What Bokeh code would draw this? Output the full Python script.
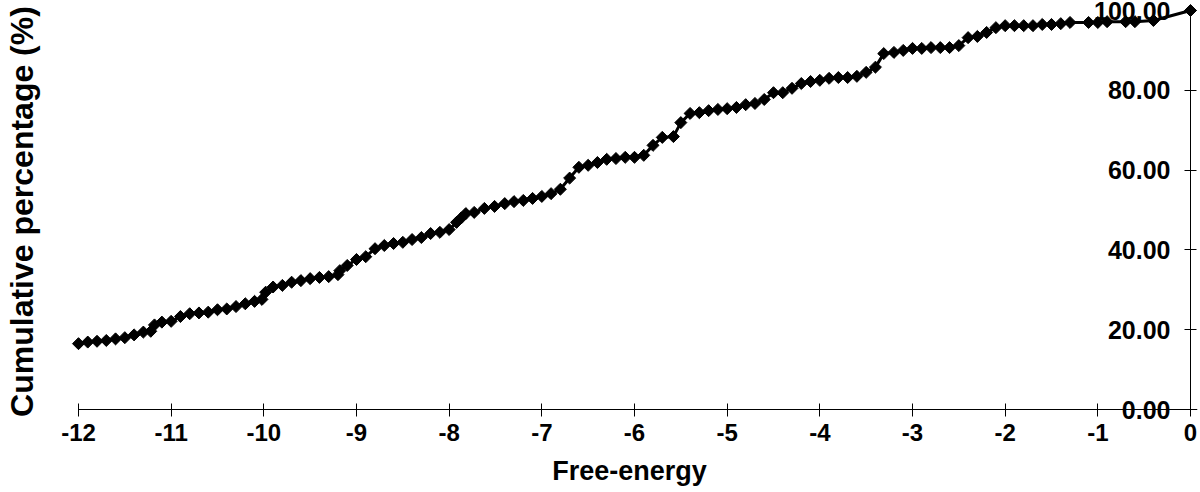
import math
from bokeh.plotting import figure
from bokeh.models import (Range1d, LinearAxis, FixedTicker, NumeralTickFormatter,
                          CustomJSTickFormatter)
from bokeh.embed import file_html
from bokeh.resources import INLINE

free_energy = [
    -12.0, -11.9, -11.8, -11.7, -11.6, -11.5, -11.4, -11.3, -11.22, -11.18,
    -11.1, -11.0, -10.9, -10.8, -10.7, -10.6, -10.5, -10.4, -10.3, -10.2,
    -10.1, -10.02, -9.98, -9.9, -9.8, -9.7, -9.6, -9.5, -9.4, -9.3,
    -9.2, -9.18, -9.1, -9.0, -8.9, -8.8, -8.7, -8.6, -8.5, -8.4,
    -8.3, -8.2, -8.1, -8.0, -7.92, -7.87, -7.82, -7.73, -7.62, -7.51,
    -7.4, -7.3, -7.2, -7.1, -7.0, -6.9, -6.8, -6.7, -6.6, -6.5,
    -6.4, -6.3, -6.2, -6.1, -6.0, -5.9, -5.8, -5.7, -5.58, -5.5,
    -5.4, -5.3, -5.2, -5.1, -5.0, -4.9, -4.8, -4.7, -4.6, -4.5,
    -4.4, -4.3, -4.2, -4.1, -4.0, -3.9, -3.8, -3.7, -3.6, -3.5,
    -3.4, -3.31, -3.2, -3.1, -3.0, -2.9, -2.8, -2.7, -2.6, -2.5,
    -2.4, -2.3, -2.2, -2.1, -2.0, -1.9, -1.8, -1.7, -1.6, -1.5,
    -1.4, -1.3, -1.1, -1.0, -0.9, -0.7, -0.6, -0.4, 0.0,
]
cumulative_pct = [
    16.5, 16.9, 17.1, 17.3, 17.7, 18.0, 18.7, 19.4, 19.6, 21.2,
    21.9, 22.1, 23.3, 24.0, 24.2, 24.4, 25.0, 25.2, 25.8, 26.5,
    27.1, 27.6, 29.4, 30.7, 31.1, 31.9, 32.3, 32.8, 33.1, 33.3,
    33.8, 34.8, 36.1, 37.6, 38.3, 40.3, 41.1, 41.6, 41.9, 42.6,
    43.1, 44.1, 44.4, 45.1, 46.9, 48.0, 49.1, 49.4, 50.4, 50.9,
    51.6, 52.1, 52.4, 52.9, 53.4, 54.1, 55.2, 58.0, 60.7, 61.2,
    61.9, 62.7, 62.9, 63.2, 63.2, 63.7, 66.2, 68.2, 68.4, 71.9,
    74.2, 74.4, 74.9, 75.2, 75.4, 75.7, 76.4, 76.7, 77.7, 79.4,
    79.4, 80.5, 81.7, 82.2, 82.5, 83.0, 83.2, 83.2, 83.5, 84.5,
    85.8, 89.2, 89.5, 90.0, 90.5, 90.5, 90.7, 90.7, 90.7, 91.2,
    93.2, 93.5, 94.5, 95.7, 96.2, 96.2, 96.2, 96.2, 96.5, 96.5,
    96.7, 97.0, 97.0, 97.0, 97.2, 97.2, 97.2, 97.5, 100.0,
]
x_ticks = [-12, -11, -10, -9, -8, -7, -6, -5, -4, -3, -2, -1, 0]
y_ticks = [0, 20, 40, 60, 80, 100]

FONT = "Liberation Sans"

p = figure(width=1198, height=490, output_backend="svg", toolbar_location=None,
           x_range=Range1d(-12.1833, 0.0755), y_range=Range1d(-3.258, 102.506),
           x_axis_type=None, y_axis_type=None,
           min_border_left=60, min_border_right=1, min_border_top=0, min_border_bottom=68)
p.outline_line_color = None
p.background_fill_color = "white"
p.border_fill_color = "white"

p.line(free_energy, cumulative_pct, line_color="black", line_width=3)
p.scatter(free_energy, cumulative_pct, marker="square", angle=math.pi / 4,
          size=8.5, fill_color="black", line_color="black")

# x axis line + ticks, sitting at y = 0
xline = LinearAxis(ticker=FixedTicker(ticks=x_ticks, minor_ticks=[]),
                   formatter=CustomJSTickFormatter(code="return ''"),
                   fixed_location=0, bounds=(-12, 0.08))
xline.major_tick_in = 6
xline.major_tick_out = 7
xline.minor_tick_line_color = None
xline.axis_line_color = "black"
xline.major_tick_line_color = "black"
p.add_layout(xline, "below")

# x tick labels and title
xaxis = LinearAxis(ticker=FixedTicker(ticks=x_ticks, minor_ticks=[]),
                   formatter=NumeralTickFormatter(format="0"),
                   axis_label="Free-energy")
xaxis.axis_line_color = None
xaxis.major_tick_line_color = None
xaxis.minor_tick_line_color = None
xaxis.major_tick_in = 0
xaxis.major_tick_out = 0
xaxis.major_label_text_font = FONT
xaxis.major_label_text_font_style = "bold"
xaxis.major_label_text_font_size = "24px"
xaxis.major_label_text_color = "black"
xaxis.major_label_standoff = 1
xaxis.axis_label_text_font = FONT
xaxis.axis_label_text_font_style = "bold"
xaxis.axis_label_text_font_size = "27px"
xaxis.axis_label_text_color = "black"
xaxis.axis_label_standoff = 12
p.add_layout(xaxis, "below")

# y axis at x = 0, labels to its left
yaxis = LinearAxis(ticker=FixedTicker(ticks=y_ticks, minor_ticks=[]),
                   formatter=NumeralTickFormatter(format="0.00"),
                   fixed_location=0, bounds=(0, 100))
yaxis.major_tick_in = 6
yaxis.major_tick_out = 6
yaxis.minor_tick_line_color = None
yaxis.axis_line_color = "black"
yaxis.major_tick_line_color = "black"
yaxis.major_label_text_font = FONT
yaxis.major_label_text_font_style = "bold"
yaxis.major_label_text_font_size = "25px"
yaxis.major_label_text_color = "black"
yaxis.major_label_standoff = 14
p.add_layout(yaxis, "left")

# y axis title at the far left
ylab = LinearAxis(ticker=FixedTicker(ticks=[], minor_ticks=[]),
                  axis_label="Cumulative percentage (%)")
ylab.axis_line_color = None
ylab.major_tick_line_color = None
ylab.minor_tick_line_color = None
ylab.major_tick_in = 0
ylab.major_tick_out = 0
ylab.axis_label_text_font = FONT
ylab.axis_label_text_font_style = "bold"
ylab.axis_label_text_font_size = "32px"
ylab.axis_label_text_color = "black"
ylab.axis_label_standoff = 22
p.add_layout(ylab, "left")

open("out.html", "w").write(file_html(p, INLINE))
